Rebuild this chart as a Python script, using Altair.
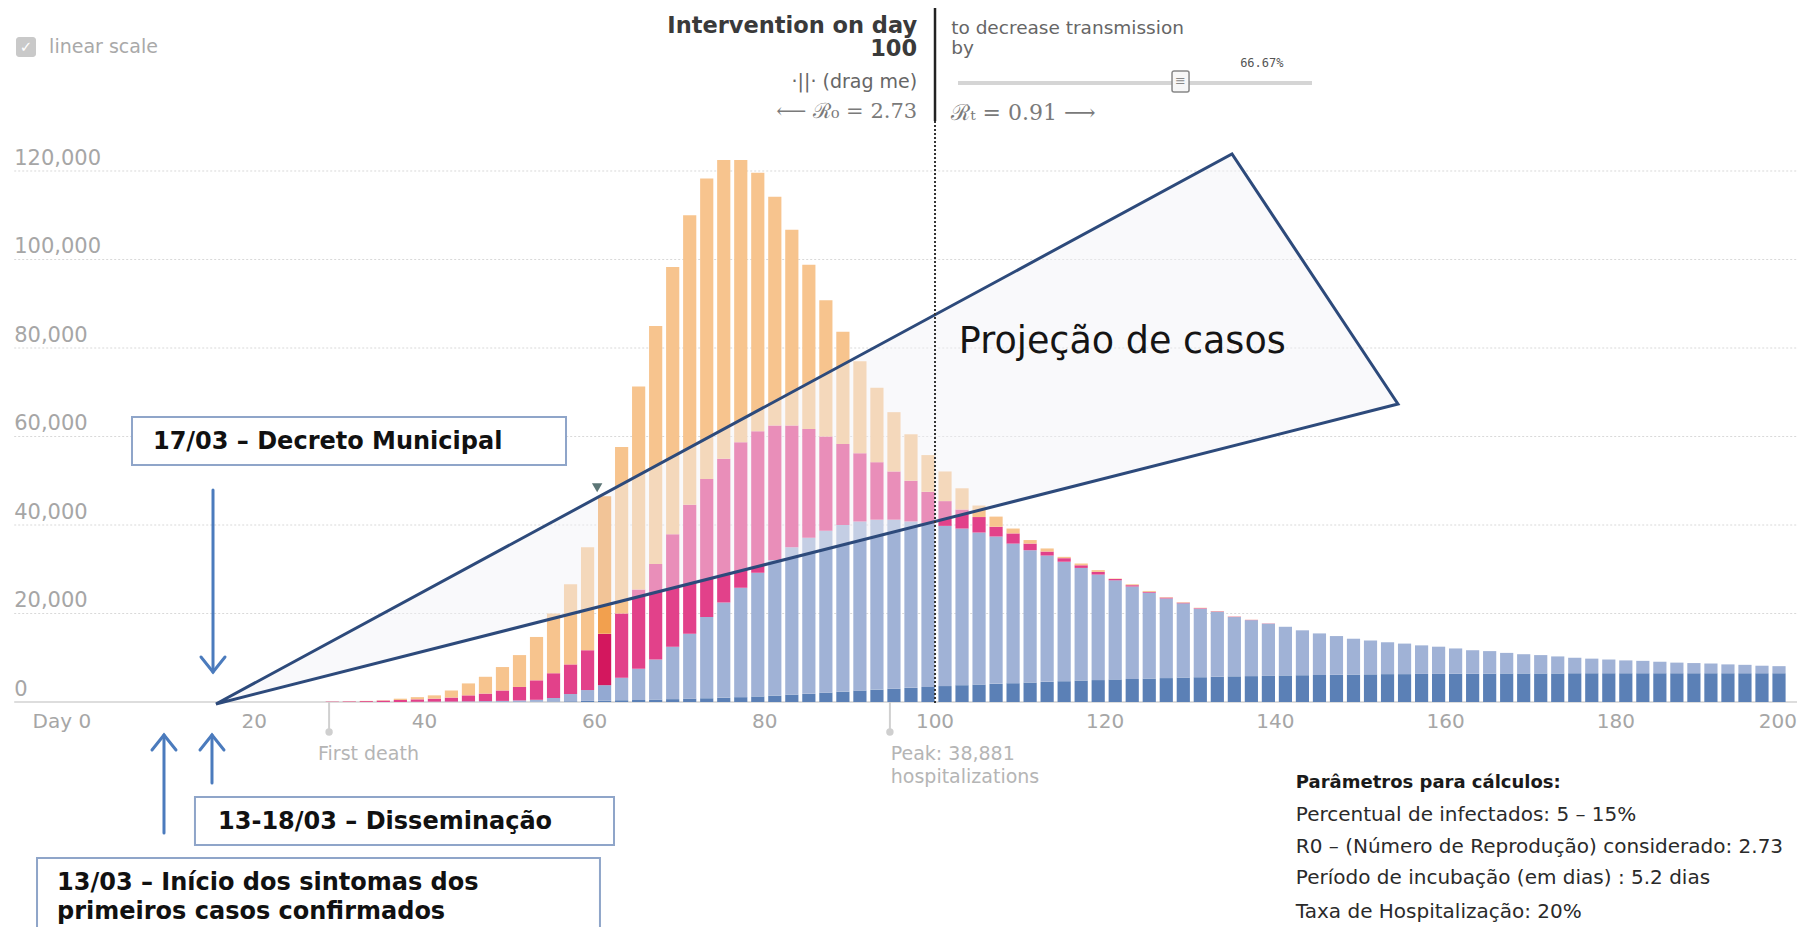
import altair as alt
import pandas as pd

# ---------------- data ----------------
days = list(range(2, 201, 2))  # one bar every two days

fatal_top = ([0] * 14 +
             [0, 0, 0, 0, 0, 0, 0, 0, 0, 0, 0, 0, 50] +
             [100, 150, 250, 300, 400, 450, 550, 650, 750, 850, 950, 1100, 1250, 1450, 1650, 1850, 2100, 2350,
              2600, 2800, 3000, 3200, 3400, 3600, 3800, 3950, 4100, 4250, 4400, 4550, 4700, 4850, 4950, 5100, 5200, 5300] +
             [5400, 5500, 5600, 5700, 5800, 5850, 5900, 6000, 6050, 6100, 6150, 6200, 6250, 6300, 6300, 6350, 6350,
              6400, 6400, 6400, 6450, 6450, 6450, 6450, 6500, 6500, 6500, 6500, 6500, 6500, 6500, 6500, 6500, 6500,
              6500, 6500, 6500])

hosp_top = ([0] * 14 +
            [0, 0, 0, 0, 0, 50, 80, 100, 150, 200, 250, 350, 500] +
            [900, 1800, 2700, 3800, 5500, 7500, 9600, 12500, 15400, 19200, 22500, 25800, 29200, 32100, 35000, 37100,
             38700, 40000, 40800, 41200, 41200, 40800, 40400, 39800, 39200, 38300, 37400, 35800, 34300, 33100, 31700,
             30300, 28800, 27500, 26100, 24700] +
            [23400, 22300, 21100, 20400, 19200, 18500, 17700, 17000, 16200, 15500, 14900, 14300, 13900, 13500, 13200,
             12800, 12500, 12100, 11700, 11500, 11100, 10800, 10600, 10300, 10000, 9800, 9600, 9400, 9300, 9100, 8900,
             8800, 8700, 8500, 8400, 8200, 8100])

infect_top = ([0] * 14 +
              [80, 120, 200, 320, 450, 600, 750, 1000, 1500, 1900, 2600, 3400, 4900] +
              [6500, 8500, 11700, 15400, 20000, 25400, 31200, 37900, 44600, 50400, 55000, 58700, 61200, 62500, 62500,
               61700, 60000, 58300, 56200, 54200, 52100, 50000, 47500, 45400, 43500, 41800, 39600, 38100, 35800, 34000,
               32500, 30900, 29400, 27800, 26400, 24900] +
              [23600, 22450, 21220, 20500, 19280, 18560, 17750] + hosp_top[70:])

total_top = ([0] * 14 +
             [100, 150, 250, 400, 750, 1100, 1500, 2600, 4200, 5700, 7900, 10600, 14700] +
             [20000, 26600, 35000, 46500, 57600, 71300, 85000, 98300, 110000, 118300, 122500, 122500, 119600, 114200,
              106700, 98800, 90800, 83700, 77000, 71000, 65500, 60500, 55800, 52100, 48300, 44400, 41900, 39200, 36600,
              34700, 32800, 31300, 29800, 27900, 26600, 25100] +
             [23700, 22550, 21300, 20560, 19320, 18590, 17770] + hosp_top[70:])

series = ["Fatalities", "Hospitalized", "Infectious", "Exposed"]
series_colors = ["#5b80b6", "#a0b2d6", "#e2418a", "#f7c48e"]
highlight_day = 62
highlight_colors = ["#5b80b6", "#93a9d2", "#d3175e", "#f2a04e"]

y_ticks = [0, 20000, 40000, 60000, 80000, 100000, 120000]
y_tick_labels = ["0", "20,000", "40,000", "60,000", "80,000", "100,000", "120,000"]
x_ticks = [0, 20, 40, 60, 80, 100, 120, 140, 160, 180, 200]
x_tick_labels = ["Day 0", "20", "40", "60", "80", "100", "120", "140", "160", "180", "200"]

intervention_day = 100
first_death_day = 28.8
peak_day = 94.7

# ---------------- scales (plot area = whole canvas) ----------------
XMIN, XMAX = -8.93, 201.29
YMIN, YMAX = -50847, 156836
xs = alt.Scale(domain=[XMIN, XMAX], nice=False, zero=False)
ys = alt.Scale(domain=[YMIN, YMAX], nice=False, zero=False)


def X(f="x"):
    return alt.X(f + ":Q", scale=xs, axis=None)


def Y(f="y"):
    return alt.Y(f + ":Q", scale=ys, axis=None)


def texts(df, **kw):
    return alt.Chart(df).mark_text(baseline="middle", **kw).encode(x=X(), y=Y(), text="t:N")


# ---------------- bars ----------------
for arr in (fatal_top, hosp_top, infect_top, total_top):
    assert len(arr) == len(days)

rows = []
for i, d in enumerate(days):
    bounds = [0, fatal_top[i], hosp_top[i], infect_top[i], total_top[i]]
    for k, s in enumerate(series):
        lo, hi = bounds[k], bounds[k + 1]
        if hi <= lo:
            continue
        key = s + (" hl" if d == highlight_day else "")
        rows.append(dict(x=d - 1.6, x2=d - 0.05, y=lo, y2=hi, key=key))
bars_df = pd.DataFrame(rows)
color_domain = series + [s + " hl" for s in series]
color_range = series_colors + highlight_colors

bars = alt.Chart(bars_df).mark_bar(strokeWidth=0).encode(
    x=X(), x2="x2:Q", y=Y(), y2="y2:Q",
    color=alt.Color("key:N", scale=alt.Scale(domain=color_domain, range=color_range), legend=None),
)

# ---------------- grid & axes ----------------
grid_df = pd.DataFrame({"x": [-8.2] * 6, "x2": [XMAX] * 6, "y": y_ticks[1:]})
grid = alt.Chart(grid_df).mark_rule(color="#d9d9d9", strokeDash=[2, 2], strokeWidth=1).encode(
    x=X(), x2="x2:Q", y=Y())
base_df = pd.DataFrame({"x": [-8.2], "x2": [XMAX], "y": [0]})
baseline = alt.Chart(base_df).mark_rule(color="#d2d2d2", strokeWidth=1.5).encode(x=X(), x2="x2:Q", y=Y())

ylab_df = pd.DataFrame({"x": [-8.2] * 7, "y": [t + 2800 for t in y_ticks], "t": y_tick_labels})
ylabels = texts(ylab_df, align="left", font="DejaVu Sans", fontSize=21, color="#a6a6a6")
xlab_df = pd.DataFrame({"x": [-2.6] + x_ticks[1:-1], "y": [-4520] * 10, "t": x_tick_labels[:-1]})
xlabels = texts(xlab_df, align="center", font="DejaVu Sans", fontSize=20, color="#a6a6a6")
xlast_df = pd.DataFrame({"x": [XMAX], "y": [-4520], "t": x_tick_labels[-1:]})
xlast = texts(xlast_df, align="right", font="DejaVu Sans", fontSize=20, color="#a6a6a6")

# markers under the axis
mk_df = pd.DataFrame({"x": [first_death_day, peak_day], "y": [0, 0], "y2": [-6780, -6780]})
mk_rules = alt.Chart(mk_df).mark_rule(color="#d0d0d0", strokeWidth=2).encode(x=X(), y=Y(), y2="y2:Q")
mk_dots = alt.Chart(mk_df).mark_point(shape="circle", filled=True, size=55, color="#cfcfcf", opacity=1).encode(
    x=X(), y=Y("y2"))
mk_txt_df = pd.DataFrame({"x": [first_death_day - 1.3, peak_day + 0.1, peak_day + 0.1],
                          "y": [-11750, -11750, -16950],
                          "t": ["First death", "Peak: 38,881", "hospitalizations"]})
mk_txt = texts(mk_txt_df, align="left", font="DejaVu Sans", fontSize=19, color="#b5b5b5")

# ---------------- projection triangle ----------------
tri_area_df = pd.DataFrame({"x": [15.5, 134.9, 154.4], "y": [-450, 123840, 67350], "y2": [-450, 57830, 67350]})
tri_fill = alt.Chart(tri_area_df).mark_area(color="#f1f2f5", opacity=0.44).encode(x=X(), y=Y(), y2="y2:Q")
tri_line_df = pd.DataFrame({"x": [15.5, 134.9, 154.4, 15.5], "y": [-450, 123840, 67350, -450], "o": [0, 1, 2, 3]})
tri_line = alt.Chart(tri_line_df).mark_line(color="#2d4a7b", strokeWidth=3, strokeJoin="miter").encode(
    x=X(), y=Y(), order="o:Q")
proj_df = pd.DataFrame({"x": [102.8], "y": [81360], "t": ["Projeção de casos"]})
proj_txt = texts(proj_df, align="left", font="DejaVu Sans", fontSize=36.5, color="#151515")

sel_df = pd.DataFrame({"x": [60.3], "y": [48400]})
sel_marker = alt.Chart(sel_df).mark_point(shape="triangle-down", filled=True, size=110, color="#5c7676",
                                          opacity=1).encode(x=X(), y=Y())

# ---------------- intervention line & header ----------------
iv_solid_df = pd.DataFrame({"x": [intervention_day], "y": [156840], "y2": [131300]})
iv_solid = alt.Chart(iv_solid_df).mark_rule(color="#222222", strokeWidth=2.5).encode(x=X(), y=Y(), y2="y2:Q")
iv_dot_df = pd.DataFrame({"x": [intervention_day], "y": [131300], "y2": [-400]})
iv_dot = alt.Chart(iv_dot_df).mark_rule(color="#333333", strokeWidth=2, strokeDash=[2, 2]).encode(
    x=X(), y=Y(), y2="y2:Q")

hdr_bold = texts(pd.DataFrame({"x": [97.9, 97.9], "y": [152800, 147600], "t": ["Intervention on day", "100"]}),
                 align="right", font="DejaVu Sans", fontSize=22.5, fontWeight="bold", color="#3a3a3a")
hdr_drag = texts(pd.DataFrame({"x": [97.9], "y": [140120], "t": ["·||· (drag me)"]}),
                 align="right", font="DejaVu Sans", fontSize=19, color="#666666")
hdr_r0 = texts(pd.DataFrame({"x": [97.9], "y": [133340], "t": ["⟵ ℛ₀ = 2.73"]}),
               align="right", font="DejaVu Serif", fontSize=21, color="#7a7a7a")
hdr_right = texts(pd.DataFrame({"x": [101.9, 101.9], "y": [152320, 147800], "t": ["to decrease transmission", "by"]}),
                  align="left", font="DejaVu Sans", fontSize=18.5, color="#666666")
hdr_rt = texts(pd.DataFrame({"x": [101.9], "y": [133110], "t": ["ℛₜ = 0.91 ⟶"]}),
               align="left", font="DejaVu Serif", fontSize=22, color="#7a7a7a")
pct = texts(pd.DataFrame({"x": [138.4], "y": [144410], "t": ["66.67%"]}),
            align="center", font="DejaVu Sans Mono", fontSize=12, color="#555555")
track_df = pd.DataFrame({"x": [102.7], "x2": [144.3], "y": [139890]})
track = alt.Chart(track_df).mark_rule(color="#d5d5d5", strokeWidth=4).encode(x=X(), x2="x2:Q", y=Y())
handle_df = pd.DataFrame({"x": [127.85], "x2": [129.85], "y": [142600], "y2": [137860]})
handle = alt.Chart(handle_df).mark_rect(fill="#f7f7f7", stroke="#888888", strokeWidth=1.5, cornerRadius=2).encode(
    x=X(), x2="x2:Q", y=Y(), y2="y2:Q")
handle_g = texts(pd.DataFrame({"x": [128.85], "y": [140230], "t": ["≡"]}),
                 align="center", font="DejaVu Sans", fontSize=13, color="#888888")

cb_df = pd.DataFrame({"x": [-7.99], "x2": [-5.64], "y": [150290], "y2": [145770]})
checkbox = alt.Chart(cb_df).mark_rect(fill="#c9c9c9", cornerRadius=3).encode(x=X(), x2="x2:Q", y=Y(), y2="y2:Q")
check = texts(pd.DataFrame({"x": [-6.8], "y": [148030], "t": ["✓"]}),
              align="center", font="DejaVu Sans", fontSize=15, fontWeight="bold", color="white")
lin_scale = texts(pd.DataFrame({"x": [-4.1], "y": [148030], "t": ["linear scale"]}),
                  align="left", font="DejaVu Sans", fontSize=19, color="#a9a9a9")

# ---------------- annotation boxes & arrows ----------------
box_df = pd.DataFrame({"x": [5.64, 13.04, -5.52], "x2": [56.64, 62.28, 60.63],
                       "y": [64410, -21470, -35260], "y2": [53560, -32320, -53500]})
boxes = alt.Chart(box_df).mark_rect(fill="white", stroke="#8fa5c9", strokeWidth=2).encode(
    x=X(), x2="x2:Q", y=Y(), y2="y2:Q")
box_txt_df = pd.DataFrame({"x": [8.1, 15.75, -3.17, -3.17], "y": [58760, -27120, -40900, -47460],
                           "t": ["17/03 – Decreto Municipal", "13-18/03 – Disseminação",
                                 "13/03 – Início dos sintomas dos", "primeiros casos confirmados"]})
box_txt = texts(box_txt_df, align="left", font="DejaVu Sans", fontSize=24, fontWeight="bold", color="#111111")

arrow_rows = []
for g, (x, y_from, y_tip, wing_y) in enumerate([(15.16, 47910, 6780, 10170),
                                                  (9.40, -29610, -7460, -10850),
                                                  (15.04, -18310, -7460, -10850)]):
    arrow_rows += [dict(g=f"s{g}", o=0, x=x, y=y_from), dict(g=f"s{g}", o=1, x=x, y=y_tip)]
    arrow_rows += [dict(g=f"h{g}", o=0, x=x - 1.41, y=wing_y), dict(g=f"h{g}", o=1, x=x, y=y_tip),
                   dict(g=f"h{g}", o=2, x=x + 1.41, y=wing_y)]
arrows = alt.Chart(pd.DataFrame(arrow_rows)).mark_line(color="#4b7bbd", strokeWidth=3, strokeCap="round").encode(
    x=X(), y=Y(), detail="g:N", order="o:Q")

par_bold = texts(pd.DataFrame({"x": [142.4], "y": [-18310], "t": ["Parâmetros para cálculos:"]}),
                 align="left", font="DejaVu Sans", fontSize=18, fontWeight="bold", color="#1a1a1a")
par_df = pd.DataFrame({"x": [142.4] * 4, "y": [-25540, -32770, -39780, -47460],
                       "t": ["Percentual de infectados: 5 – 15%",
                             "R0 – (Número de Reprodução) considerado: 2.73",
                             "Período de incubação (em dias) : 5.2 dias",
                             "Taxa de Hospitalização: 20%"]})
par_txt = texts(par_df, align="left", font="DejaVu Sans", fontSize=20, color="#2a2a2a")

chart = alt.layer(
    grid, baseline, bars, sel_marker, tri_fill, tri_line, iv_dot, iv_solid,
    mk_rules, mk_dots, mk_txt, ylabels, xlabels, xlast, proj_txt,
    hdr_bold, hdr_drag, hdr_r0, hdr_right, hdr_rt, pct, track, handle, handle_g,
    checkbox, check, lin_scale, boxes, box_txt, arrows, par_bold, par_txt,
).properties(
    width=1789, height=919, autosize=alt.AutoSizeParams(type="none"), padding=0,
).configure_view(stroke=None)

chart.save("out.html", embed_options={"renderer": "svg", "actions": False})
